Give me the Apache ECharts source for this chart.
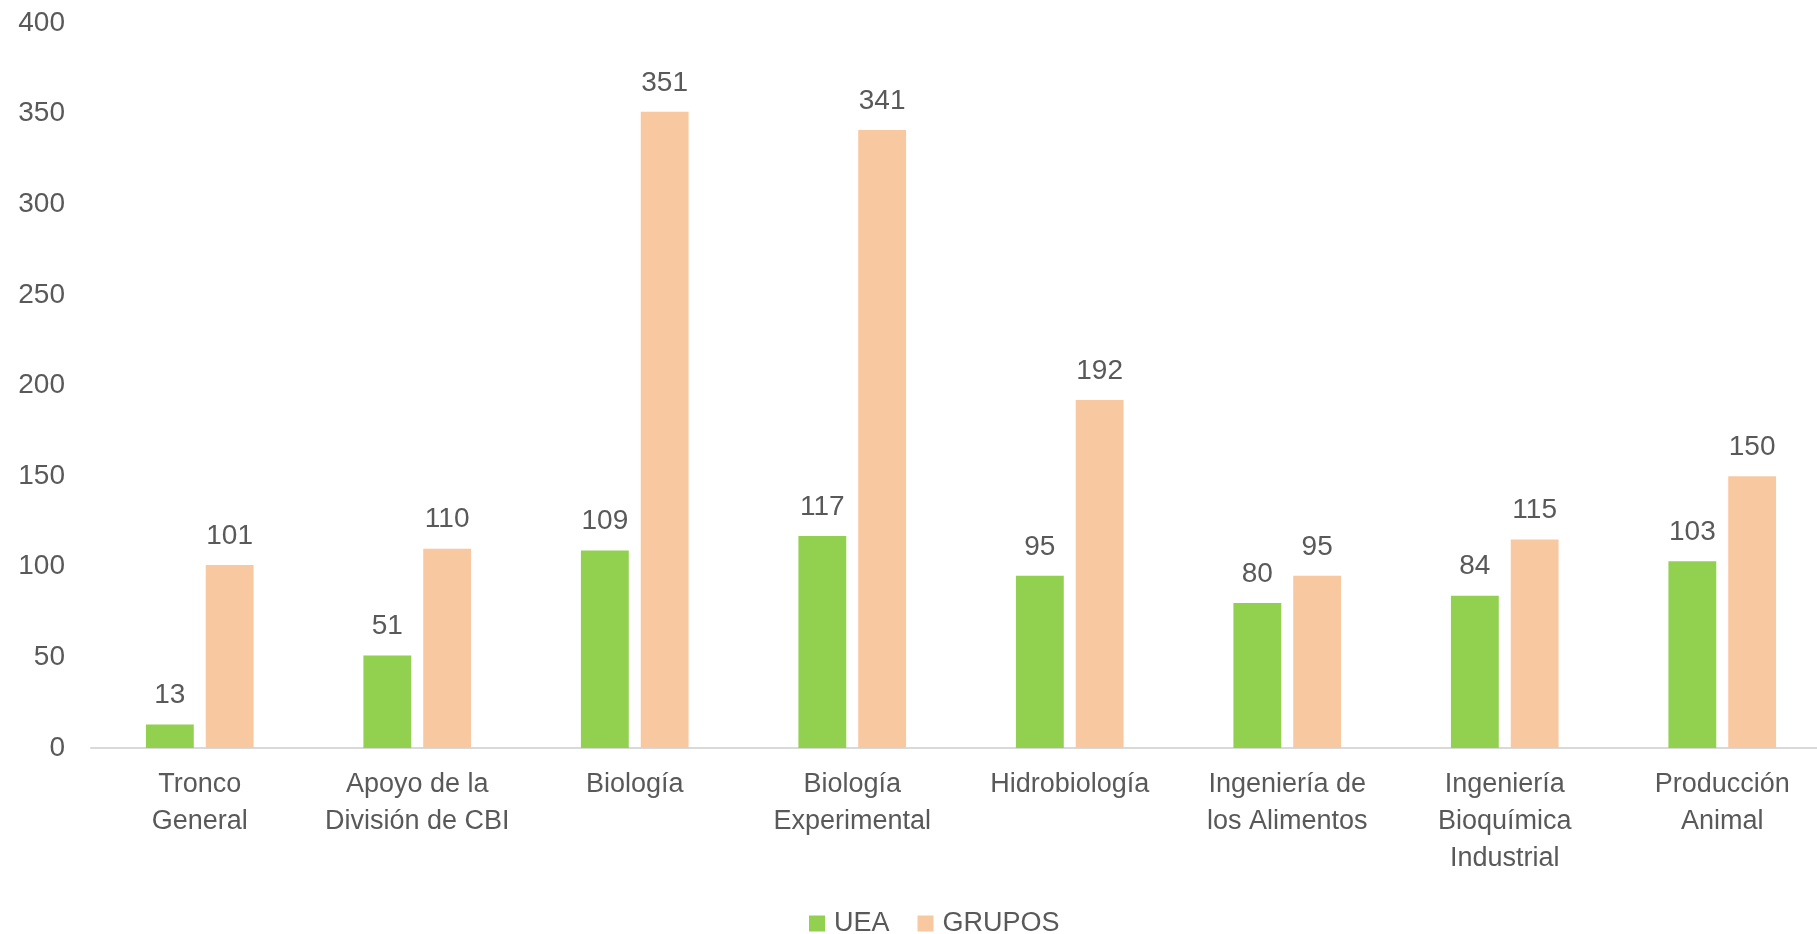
<!DOCTYPE html>
<html>
<head>
<meta charset="utf-8">
<script src="https://cdn.jsdelivr.net/npm/echarts@6/dist/echarts.min.js"></script>
<style>
html,body{margin:0;padding:0;background:#fff;}
#chart{width:1817px;height:934px;}
</style>
</head>
<body>
<div id="chart"></div>
<script>
const categories = [
  "Tronco\nGeneral",
  "Apoyo de la\nDivisión de CBI",
  "Biología",
  "Biología\nExperimental",
  "Hidrobiología",
  "Ingeniería de\nlos Alimentos",
  "Ingeniería\nBioquímica\nIndustrial",
  "Producción\nAnimal"
];
const seriesNames = ["UEA", "GRUPOS"];
const ueaValues = [13, 51, 109, 117, 95, 80, 84, 103];
const gruposValues = [101, 110, 351, 341, 192, 95, 115, 150];
const yTicks = { min: 0, max: 400, interval: 50 };

const FONT = '"Liberation Sans", Arial, sans-serif';
const TXT = '#595959';

const chart = echarts.init(document.getElementById('chart'));
const labelStyle = {
  show: true, position: 'top', distance: 15,
  color: TXT, fontSize: 28, fontFamily: FONT
};
chart.setOption({
  animation: false,
  textStyle: { fontFamily: FONT },
  grid: { left: 91, width: 1740, top: 23, bottom: 186, containLabel: false, outerBoundsMode: 'none' },
  legend: {
    top: 905, left: 804,
    itemWidth: 16, itemHeight: 16, itemGap: 28,
    icon: 'rect',
    textStyle: { color: TXT, fontSize: 27, fontFamily: FONT, padding: [0, 0, 0, 4] },
    data: seriesNames
  },
  xAxis: {
    type: 'category',
    data: categories,
    axisLine: { show: true, lineStyle: { color: '#d9d9d9', width: 2 } },
    axisTick: { show: false },
    axisLabel: { color: TXT, fontSize: 27, fontFamily: FONT, margin: 18, lineHeight: 37, interval: 0 }
  },
  yAxis: {
    type: 'value',
    min: yTicks.min, max: yTicks.max, interval: yTicks.interval,
    splitLine: { show: false },
    axisLine: { show: false },
    axisTick: { show: false },
    axisLabel: { color: TXT, fontSize: 28, fontFamily: FONT, margin: 26 }
  },
  series: [
    {
      name: seriesNames[0], type: 'bar', data: ueaValues,
      barWidth: '22%', barGap: '25%',
      itemStyle: { color: '#92D050' },
      label: labelStyle
    },
    {
      name: seriesNames[1], type: 'bar', data: gruposValues,
      barWidth: '22%', barGap: '25%',
      itemStyle: { color: '#F8C8A0' },
      label: labelStyle
    }
  ]
});
</script>
</body>
</html>
